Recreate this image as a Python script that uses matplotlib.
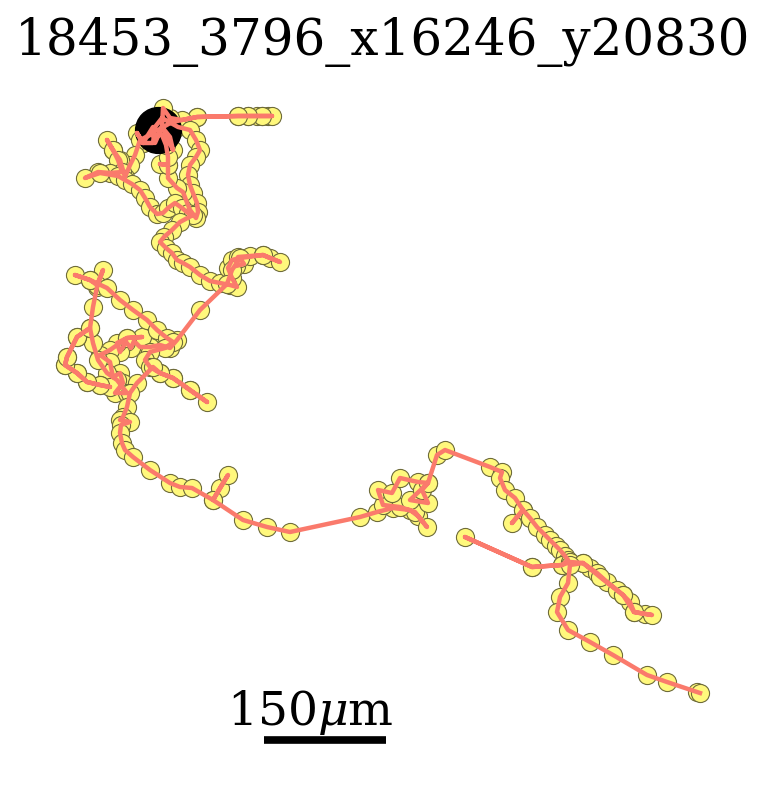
import numpy as np
import matplotlib
matplotlib.use("Agg")
import matplotlib.pyplot as plt

# track id shown as title
track_name = "18453_3796_x16246_y20830"

# scale: microns per image unit
UM_PER_PX = 150 / 122
scale_um = 150

# track positions (image units, y grows downward)
track_x = [
    158, 172, 197, 238, 248, 257, 262, 268, 272,
    262, 248, 238, 197, 182, 170, 163,
    162, 170, 173, 162, 155, 153, 143, 137, 143, 153, 155, 162, 178,
    190, 196, 200, 196, 190, 188, 190, 193, 197, 198, 196,
    190, 186, 183, 177, 168, 168, 160, 168, 168, 166, 162,
    150, 140, 135, 130, 125,
    120, 113, 107, 113, 118, 122,
    110, 98, 85, 100, 118,
    125, 132, 140, 145, 150, 157, 163, 168, 175, 182, 188, 193,
    180, 172, 164, 160, 166, 172, 177, 183, 190, 200, 210, 220, 230, 237,
    232, 228, 232, 240, 244, 236, 238, 250, 263, 270, 280,
    263, 240, 232, 227,
    200, 177, 170,
    160, 150, 140, 134, 131, 126, 120, 117, 127, 142, 127, 110, 100,
    110, 113, 120, 123, 115, 127,
    117, 107, 98, 93, 90, 77, 67, 65, 77, 87, 100, 110,
    100, 87, 77, 65, 67, 77, 90, 93, 97, 103,
    97, 90, 75,
    90, 107, 120, 133, 147, 157, 167, 173,
    165, 150, 145, 150, 160, 173, 190, 207,
    190, 173, 160, 153, 137, 130, 127, 123, 120, 130, 121, 120, 122, 125, 133, 150,
    170, 180, 192, 213, 220, 228, 213,
    243, 267, 290, 360, 377, 393, 410, 418, 427,
    415, 400, 383, 378, 392, 400, 418, 428, 410, 428, 422, 428,
    437, 445, 490, 502, 500, 505, 515, 523, 512, 523,
    530, 537, 545, 550, 556, 560, 565, 568, 562, 532, 465,
    532, 562, 570, 583, 590, 597, 607, 617, 623, 630, 634, 645, 652,
    634, 623, 600, 583, 570, 568, 560, 557, 568, 590, 613, 647, 667, 697, 700,
]
track_y = [
    130, 122, 117, 116, 116, 116, 116, 116, 116,
    116, 116, 116, 117, 120, 118, 108,
    127, 137, 150, 127, 143, 127, 143, 133, 143, 143, 127, 118, 127,
    130, 140, 150, 157, 165, 175, 185, 193, 203, 212, 218,
    210, 200, 192, 188, 178, 165, 164, 165, 157, 145, 135,
    135, 140, 155, 165, 177,
    160, 150, 140, 150, 160, 172,
    173, 172, 178, 173, 176,
    180, 184, 190, 198, 207, 214, 213, 208, 203, 208, 213, 215,
    222, 230, 237, 242, 248, 253, 260, 263, 267, 275, 281, 283, 285, 287,
    278, 268, 260, 258, 264, 266, 257, 256, 255, 258, 262,
    255, 258, 270, 284,
    310, 340, 348,
    345, 347, 347, 341, 348, 342, 352, 343, 338, 337, 338, 350, 355,
    362, 377, 373, 383, 393, 393,
    380, 373, 360, 343, 328, 337, 357, 365, 373, 382, 385, 387,
    385, 382, 373, 365, 357, 337, 328, 307, 287, 270,
    285, 280, 275,
    280, 288, 300, 310, 320, 330, 338, 342,
    348, 352, 360, 367, 373, 378, 390, 402,
    390, 378, 373, 367, 383, 393, 407, 417, 420, 422, 425, 433, 443, 450, 457, 470,
    483, 487, 488, 500, 488, 475, 500,
    520, 527, 532, 517, 512, 508, 510, 516, 527,
    512, 507, 505, 490, 493, 478, 482, 483, 500, 503, 490, 483,
    455, 450, 467, 472, 478, 490, 498, 510, 523, 510,
    518, 527, 535, 540, 546, 550, 556, 560, 565, 567, 537,
    567, 565, 562, 563, 568, 573, 582, 590, 595, 602, 612, 614, 615,
    612, 595, 577, 563, 565, 583, 597, 612, 630, 642, 655, 675, 682, 692, 693,
]

track_x = np.array(track_x)
track_y = np.array(track_y)

fig = plt.figure(figsize=(7.65, 7.86), dpi=100)
ax = fig.add_axes([0, 0, 1, 1])
ax.set_xlim(0, 765)
ax.set_ylim(786, 0)
ax.set_aspect("equal")
ax.axis("off")

# every frame as a dot, start marker, then the path on top
ax.scatter(track_x, track_y, s=170, c="#fff87c", edgecolors="#6e6b3a",
           linewidths=0.8, zorder=1)
ax.plot(track_x[0], track_y[0], "o", color="black", markersize=33, zorder=2)
ax.plot(track_x, track_y, color="#fa7a6c", linewidth=3.2, zorder=3)

# scale bar
bar_len = scale_um / UM_PER_PX
bar_x0, bar_y = 264, 740
ax.plot([bar_x0, bar_x0 + bar_len], [bar_y, bar_y], color="black",
        linewidth=5.5, solid_capstyle="butt")
plt.rcParams["mathtext.fontset"] = "dejavuserif"
ax.text(bar_x0 + bar_len / 2 - 15, 725, "%d$\\mu$m" % scale_um, ha="center",
        va="baseline", fontsize=34, family="DejaVu Serif")

fig.text(0.5, 1 - 55 / 786, track_name, ha="center", va="baseline",
         fontsize=36, family="DejaVu Serif")

fig.savefig("out.png", dpi=100)
